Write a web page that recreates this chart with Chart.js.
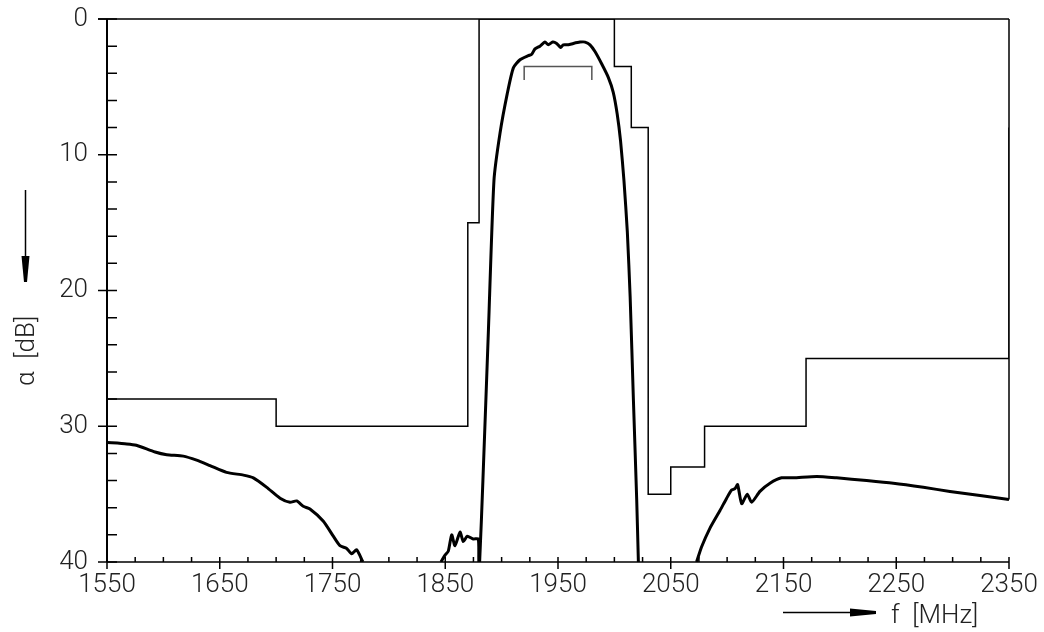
<!DOCTYPE html>
<html lang="en">
<head>
    <meta charset="UTF-8">
    <title>Filter response</title>
    <script src="https://cdn.jsdelivr.net/npm/chart.js"></script>
    <style>
        body {
            margin: 0;
            padding: 0;
            background-color: #fff;
        }

        .box {
            width: 1044px;
            height: 632px;
            position: relative;
        }
    </style>
</head>
<body>
    <div class="box">
        <canvas id="responseChart"></canvas>
    </div>

    <script>
        // Axis ticks
        const freqTicks = [1550, 1650, 1750, 1850, 1950, 2050, 2150, 2250, 2350];
        const dbTicks = [0, 10, 20, 30, 40];

        // Tolerance mask (corner points of the step line)
        const maskFreq = [1550, 1700, 1700, 1870, 1870, 1880, 1880, 2000, 2000, 2015, 2015, 2030, 2030, 2050, 2050, 2080, 2080, 2170, 2170, 2350, 2350];
        const maskDb   = [28,   28,   30,   30,   15,   15,   0,    0,    3.5,  3.5,  8,    8,    35,   35,   33,   33,   30,   30,   25,   25,   8];

        // Passband marker
        const bandFreq = [1920, 1920, 1980, 1980];
        const bandDb   = [4.5,  3.5,  3.5,  4.5];

        // Measured attenuation, lower stopband
        const lowFreq = [1550, 1567.5, 1576, 1592.6, 1603, 1617.7, 1629.5, 1641.4, 1656, 1671, 1679.8, 1691.7, 1703.5, 1712.3, 1718.2, 1724.1, 1730, 1741.9, 1750.7, 1756.6, 1762.6, 1767, 1771.4, 1777];
        const lowDb   = [31.2, 31.3,   31.4, 31.9,   32.1, 32.2,   32.5,   32.9,   33.4, 33.6, 33.8,   34.5,   35.3,   35.6,   35.5,   35.9,   36.1, 37.0,   38.1,   38.8,   39.0,   39.4, 39.1,   40];

        // Measured attenuation, passband
        const passFreq = [1846.2, 1849.8, 1852.7, 1855.7, 1858.6, 1863.1, 1866, 1869.5, 1874.8, 1879.3, 1879.8, 1880.5, 1883.4, 1888.3, 1893.2, 1898.6, 1905, 1910.4, 1916.3, 1923.7, 1926.7, 1929.6, 1934, 1938.5, 1941.4, 1945.3, 1948.8, 1952.4, 1954.7, 1959.2, 1963.6, 1969.5, 1974, 1978.4, 1982.8, 1988.7, 1994.6, 1999, 2002.5, 2005.5, 2008.5, 2011.5, 2014, 2016.9, 2019.8, 2021.3];
        const passDb   = [40,     39.5,   39.2,   38.0,   38.8,   37.8,   38.5, 38.1,   38.3,   38.3,   40,     40,     34,     22.9,   11.9,   8.4,    5.5,  3.6,    3.0,    2.7,    2.6,    2.2,    2.0,  1.7,    1.9,    1.7,    1.8,    2.1,    1.9,    1.9,    1.8,    1.7,    1.7,  1.9,    2.4,    3.3,    4.3,    5.4,  7.0,    9.0,    11.9,   15.7,   20.5,   28.1,   35.4,   40];

        // Measured attenuation, upper stopband
        const highFreq = [2072.9, 2077.3, 2084.8, 2093.7, 2099.6, 2104, 2106.9, 2109.3, 2112.9, 2117.9, 2121.7, 2129.1, 2138, 2148.3, 2158.7, 2179.4, 2197.1, 2223.7, 2247.4, 2274, 2297.6, 2324.3, 2350];
        const highDb   = [40,     38.9,   37.5,   36.2,   35.3,   34.7, 34.6,   34.3,   35.7,   35.0,   35.6,   34.8,   34.2, 33.8,   33.8,   33.7,   33.8,   34.0,   34.2,   34.5, 34.8,   35.1,   35.4];

        const toPoints = (xs, ys) => xs.map((x, i) => ({ x: x, y: ys[i] }));

        const FONT = "Roboto, 'Liberation Sans', sans-serif";

        // Frame, inward ticks, axis arrows and titles
        const framePlugin = {
            id: 'frame',
            afterDraw(chart) {
                const ctx = chart.ctx;
                const xs = chart.scales.x;
                const ys = chart.scales.y;
                const left = xs.getPixelForValue(1550);
                const right = xs.getPixelForValue(2350);
                const top = ys.getPixelForValue(0);
                const bottom = ys.getPixelForValue(40);

                ctx.save();
                ctx.strokeStyle = '#000';
                ctx.lineCap = 'butt';

                // left axis
                ctx.lineWidth = 2;
                ctx.beginPath();
                ctx.moveTo(left, top);
                ctx.lineTo(left, bottom);
                ctx.stroke();

                ctx.lineWidth = 1.5;
                ctx.beginPath();
                ctx.moveTo(left - 9, top);
                ctx.lineTo(right, top);
                ctx.moveTo(left, bottom);
                ctx.lineTo(right, bottom);
                // right border stops where the curve ends
                ctx.moveTo(right, top);
                ctx.lineTo(right, ys.getPixelForValue(highDb[highDb.length - 1]));
                ctx.stroke();

                // y ticks every 2 dB
                ctx.lineWidth = 1.5;
                ctx.beginPath();
                for (let v = 0; v <= 40; v += 2) {
                    const y = ys.getPixelForValue(v);
                    if (v % 10 === 0) {
                        ctx.moveTo(left - 9, y);
                    } else {
                        ctx.moveTo(left, y);
                    }
                    ctx.lineTo(left + 10, y);
                }
                // x ticks every 25 MHz
                for (let f = 1550; f <= 2350; f += 25) {
                    const x = xs.getPixelForValue(f);
                    ctx.moveTo(x, bottom - 5);
                    ctx.lineTo(x, (f - 1550) % 100 === 0 ? bottom + 7 : bottom);
                }
                ctx.stroke();

                // y arrow
                ctx.fillStyle = '#000';
                ctx.lineWidth = 1.5;
                ctx.beginPath();
                ctx.moveTo(25.5, 190);
                ctx.lineTo(25.5, 260);
                ctx.stroke();
                ctx.beginPath();
                ctx.moveTo(21.5, 256);
                ctx.lineTo(29.5, 256);
                ctx.lineTo(27, 282);
                ctx.lineTo(24, 282);
                ctx.closePath();
                ctx.fill();

                // x arrow
                ctx.beginPath();
                ctx.moveTo(783, 612.5);
                ctx.lineTo(855, 612.5);
                ctx.stroke();
                ctx.beginPath();
                ctx.moveTo(850, 608.5);
                ctx.lineTo(850, 616.5);
                ctx.lineTo(876, 614);
                ctx.lineTo(876, 611);
                ctx.closePath();
                ctx.fill();

                // titles
                ctx.fillStyle = '#222';
                ctx.font = '300 26px ' + FONT;
                ctx.textAlign = 'left';
                ctx.textBaseline = 'alphabetic';
                ctx.fillText('f  [MHz]', 891, 623);

                ctx.translate(34, 386);
                ctx.rotate(-Math.PI / 2);
                ctx.fillText('α  [dB]', 0, 0);
                ctx.restore();
            }
        };

        const ctxResponse = document.getElementById('responseChart').getContext('2d');
        const responseChart = new Chart(ctxResponse, {
            type: 'line',
            data: {
                datasets: [
                    {
                        label: 'Mask',
                        data: toPoints(maskFreq, maskDb),
                        borderColor: '#000',
                        borderWidth: 1.5,
                        pointRadius: 0,
                        tension: 0
                    },
                    {
                        label: 'Passband',
                        data: toPoints(bandFreq, bandDb),
                        borderColor: '#555',
                        borderWidth: 1.5,
                        pointRadius: 0,
                        tension: 0
                    },
                    {
                        label: 'Lower stopband',
                        data: toPoints(lowFreq, lowDb),
                        borderColor: '#000',
                        borderWidth: 3,
                        pointRadius: 0,
                        tension: 0.2
                    },
                    {
                        label: 'Passband response',
                        data: toPoints(passFreq, passDb),
                        borderColor: '#000',
                        borderWidth: 3,
                        pointRadius: 0,
                        tension: 0.2
                    },
                    {
                        label: 'Upper stopband',
                        data: toPoints(highFreq, highDb),
                        borderColor: '#000',
                        borderWidth: 3,
                        pointRadius: 0,
                        tension: 0.2
                    }
                ]
            },
            options: {
                responsive: true,
                maintainAspectRatio: false,
                animation: false,
                layout: {
                    padding: { top: 19, right: 35, left: 0, bottom: 0 }
                },
                plugins: {
                    legend: { display: false },
                    tooltip: { enabled: false }
                },
                scales: {
                    x: {
                        type: 'linear',
                        min: 1550,
                        max: 2350,
                        afterBuildTicks: s => { s.ticks = freqTicks.map(v => ({ value: v })); },
                        afterFit: s => { s.height = 70; s.paddingLeft = 0; s.paddingRight = 0; },
                        grid: { display: false, drawTicks: false },
                        border: { display: false },
                        ticks: {
                            color: '#222',
                            padding: 8,
                            maxRotation: 0,
                            callback: v => String(v),
                            font: { family: FONT, size: 26, weight: 300 }
                        }
                    },
                    y: {
                        type: 'linear',
                        reverse: true,
                        min: 0,
                        max: 40,
                        afterBuildTicks: s => { s.ticks = dbTicks.map(v => ({ value: v })); },
                        afterFit: s => { s.width = 107; s.paddingTop = 0; s.paddingBottom = 0; },
                        grid: { display: false, drawTicks: false },
                        border: { display: false },
                        ticks: {
                            color: '#222',
                            padding: 19,
                            callback: v => String(v),
                            font: { family: FONT, size: 26, weight: 300 }
                        }
                    }
                }
            },
            plugins: [framePlugin]
        });
    </script>
</body>
</html>
